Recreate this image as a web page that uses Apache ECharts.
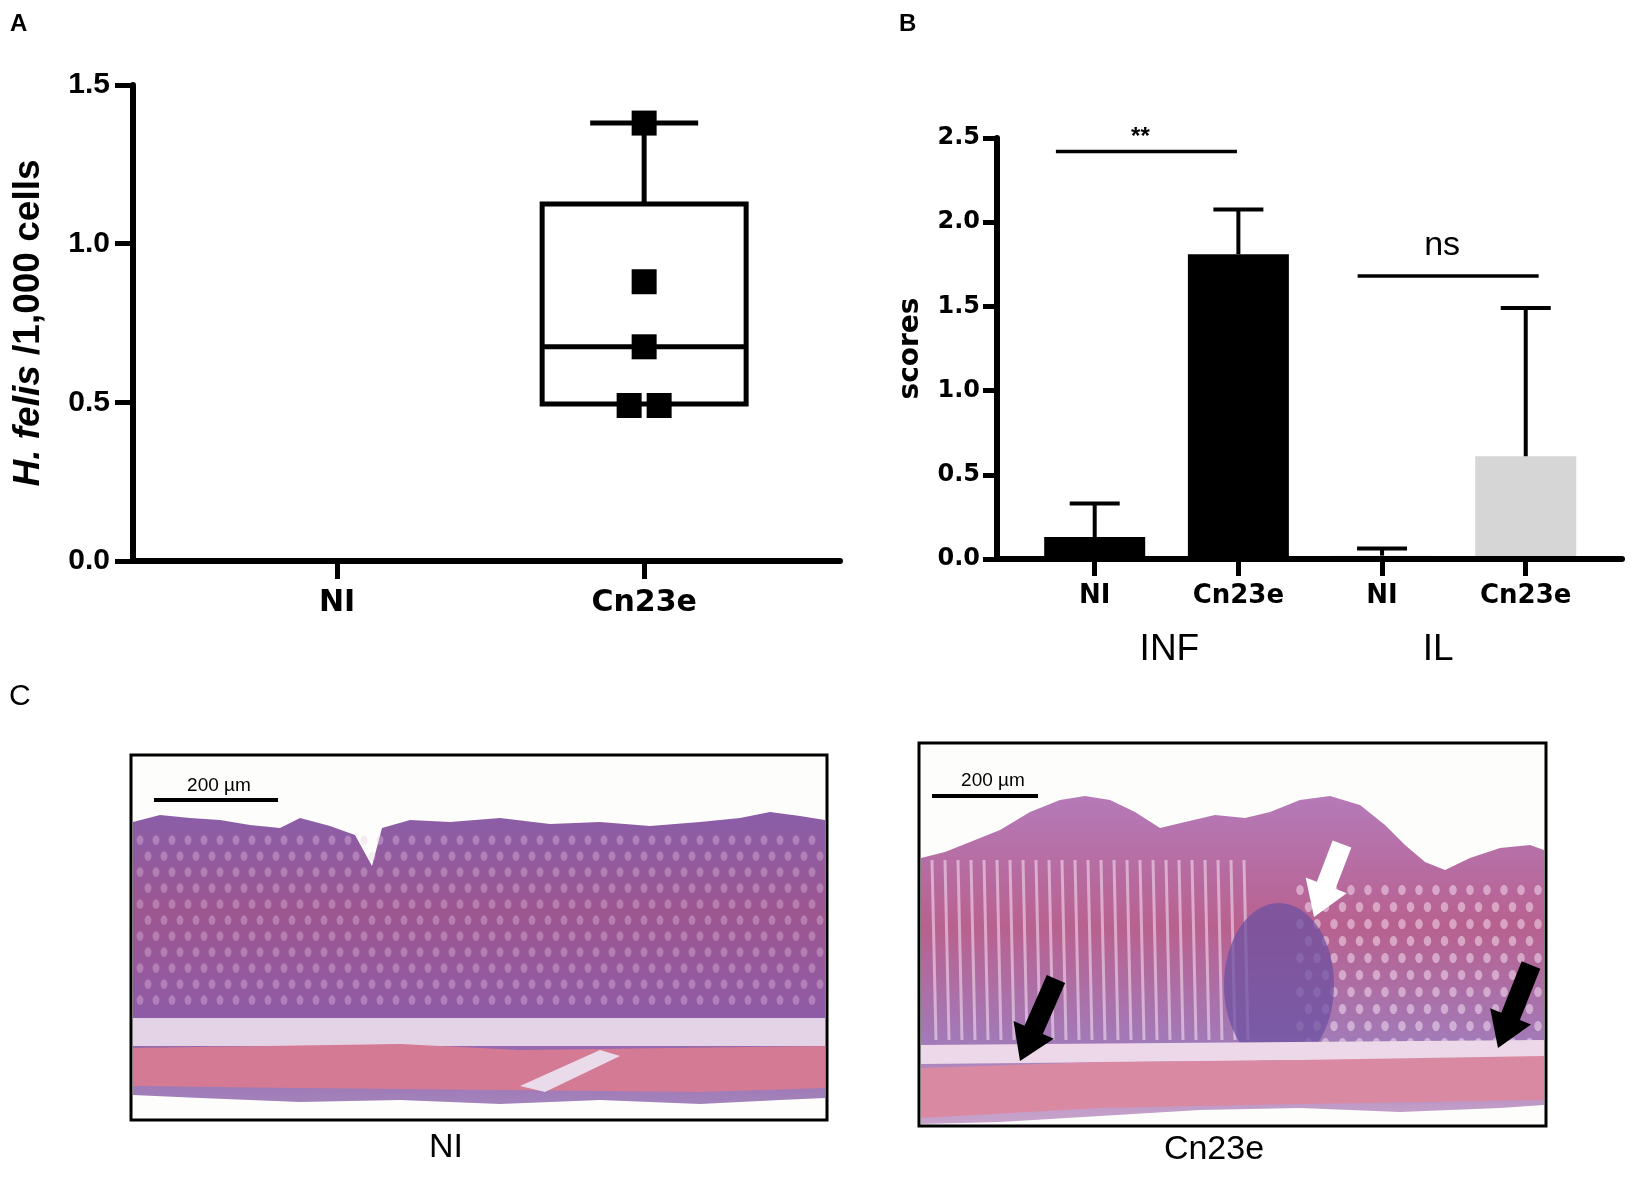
<!DOCTYPE html>
<html>
<head>
<meta charset="utf-8">
<script src="https://cdn.jsdelivr.net/npm/echarts@6/dist/echarts.min.js"></script>
<style>
  html, body { margin: 0; padding: 0; background: #fff; }
  #chart { width: 1641px; height: 1177px; }
</style>
</head>
<body>
<div id="chart"></div>
<script>
// ---- panel A: H. felis / 1,000 cells ----
const boxCats = ['NI', 'Cn23e']
// [category, min, Q1, median, Q3, max]
const boxStats = [[1, 0.49, 0.495, 0.675, 1.125, 1.38]]
const cnPoints = [1.38, 0.88, 0.675, 0.49, 0.49]
const cnJitter = [0, 0, 0, -15, 15]

// ---- panel B: scores ----
const scoreCats = ['NI', 'Cn23e', 'NI', 'Cn23e']
const scoreGroups = ['INF', 'IL']
const scoreGroupAt = [0.52, 2.39]
const scoreMean = [0.13, 1.81, 0.02, 0.61]
const scoreSem = [0.20, 0.265, 0.042, 0.88]
const scoreColors = ['#000000', '#000000', '#dcdcdc', '#d6d6d6']
const sigLines = [[-0.27, 0.99, 2.42], [1.83, 3.09, 1.68]]
const sigText = ['**', 'ns']

const ARIAL = 'Liberation Sans, Arial, sans-serif'
const DEJA = 'DejaVu Sans, sans-serif'

function seg(x1, y1, x2, y2, w) {
  return { type: 'line', shape: { x1, y1, x2, y2 }, style: { stroke: '#000', lineWidth: w } }
}

function renderBox(params, api) {
  const x = api.value(0)
  const v = [1, 2, 3, 4, 5].map(i => api.value(i))
  const p = val => api.coord([x, val])
  const cx = p(v[2])[0]
  const half = 102, cap = 54
  const ylo = p(v[0])[1], yq1 = p(v[1])[1], ym = p(v[2])[1], yq3 = p(v[3])[1], yhi = p(v[4])[1]
  return {
    type: 'group',
    children: [
      { type: 'rect', shape: { x: cx - half, y: yq3, width: half * 2, height: yq1 - yq3 },
        style: { stroke: '#000', lineWidth: 5, fill: 'none' } },
      seg(cx - half, ym, cx + half, ym, 5),
      seg(cx, yq3, cx, yhi, 5),
      seg(cx - cap, yhi, cx + cap, yhi, 5),
      seg(cx, yq1, cx, ylo, 5)
    ]
  }
}

function renderErr(params, api) {
  const x = api.value(0)
  const a = api.coord([x, api.value(1)])
  const b = api.coord([x, api.value(2)])
  return { type: 'group', children: [seg(a[0], a[1], b[0], b[1], 4), seg(b[0] - 25, b[1], b[0] + 25, b[1], 4)] }
}

function renderSig(params, api) {
  const a = api.coord([api.value(0), api.value(2)])
  const b = api.coord([api.value(1), api.value(2)])
  const t = sigText[params.dataIndex]
  const star = t === '**'
  return {
    type: 'group',
    children: [
      seg(a[0], a[1], b[0], b[1], 3.5),
      { type: 'text', x: (a[0] + b[0]) / 2 - 6, y: a[1] - (star ? 14 : 30),
        style: { text: t, fill: '#000', font: star ? 'bold 24px ' + ARIAL : '34px ' + ARIAL,
                 align: 'center', verticalAlign: 'middle', textAlign: 'center', textVerticalAlign: 'middle' } }
    ]
  }
}

function renderGroup(params, api) {
  const p = api.coord([api.value(0), 0])
  return {
    type: 'text', x: p[0], y: p[1] + 91,
    style: { text: scoreGroups[params.dataIndex], fill: '#000', font: '37px ' + ARIAL,
             align: 'center', verticalAlign: 'middle', textAlign: 'center', textVerticalAlign: 'middle' }
  }
}

// ---- panel C: histology sketches (decorative) ----
function txt(x, y, text, font, color) {
  return { type: 'text', x, y, z: 20,
    style: { text, font, fill: color || '#000', align: 'center', verticalAlign: 'middle',
             textAlign: 'center', textVerticalAlign: 'middle' } }
}
function poly(points, fill, z) {
  return { type: 'polygon', z: z || 5, shape: { points }, style: { fill } }
}
function arrow(x0, y0, x1, y1, fill) {
  const dx = x1 - x0, dy = y1 - y0, L = Math.hypot(dx, dy)
  const ux = dx / L, uy = dy / L, nx = -uy, ny = ux
  const hl = 34, sw = 10, hw = 22
  const bx = x1 - ux * hl, by = y1 - uy * hl
  return poly([
    [x0 + nx * sw, y0 + ny * sw], [bx + nx * sw, by + ny * sw], [bx + nx * hw, by + ny * hw],
    [x1, y1], [bx - nx * hw, by - ny * hw], [bx - nx * sw, by - ny * sw], [x0 - nx * sw, y0 - ny * sw]
  ], fill, 15)
}
function texture(x0, x1, y0, y1, step, color) {
  const out = []
  for (let y = y0, r = 0; y < y1; y += step, r++) {
    for (let x = x0 + (r % 2) * step / 2; x < x1; x += step) {
      out.push({ type: 'ellipse', z: 8, shape: { cx: x, cy: y, rx: step * 0.22, ry: step * 0.3 },
        style: { fill: color } })
    }
  }
  return out
}
function vstripes(x0, x1, y0, y1, step, color, w) {
  const out = []
  for (let x = x0; x < x1; x += step) {
    out.push({ type: 'line', z: 7, shape: { x1: x, y1: y0, x2: x + 4, y2: y1 }, style: { stroke: color, lineWidth: w } })
  }
  return out
}
const grad = (stops) => new echarts.graphic.LinearGradient(0, 0, 0, 1, stops)

const leftTop = [[133,822],[160,815],[190,818],[220,820],[250,825],[280,828],[300,818],[330,826],[355,835],[372,866],
  [382,828],[410,820],[450,822],[500,818],[550,824],[600,822],[650,826],[700,822],[740,818],[770,812],[800,816],[825,820]]
const leftBottom = [[825,1098],[780,1100],[700,1104],[600,1100],[500,1104],[400,1100],[300,1102],[200,1098],[133,1095]]
const rightTop = [[921,858],[945,852],[975,840],[1000,830],[1030,812],[1060,800],[1085,796],[1110,800],[1135,812],[1160,828],
  [1185,822],[1215,815],[1245,818],[1270,812],[1300,800],[1330,796],[1360,805],[1385,825],[1405,845],[1425,862],[1445,870],
  [1470,858],[1500,848],[1530,845],[1544,850]]
const rightBottom = [[1544,1105],[1500,1108],[1400,1112],[1300,1108],[1200,1110],[1100,1116],[1000,1122],[921,1124]]

const histo = [
  // left frame
  { type: 'rect', z: 1, shape: { x: 131, y: 755, width: 696, height: 365 }, style: { fill: '#fdfdfb', stroke: '#000', lineWidth: 3 } },
  poly(leftTop.concat(leftBottom), grad([{ offset: 0, color: '#8a5ea8' }, { offset: 0.35, color: '#9c5690' },
    { offset: 0.7, color: '#8f5ba6' }, { offset: 1, color: '#a383bb' }])),
  ...texture(140, 822, 840, 1015, 16, 'rgba(236,200,230,0.35)'),
  poly([[133,1018],[825,1018],[825,1046],[133,1046]], '#e4d2e6', 9),
  poly([[133,1048],[400,1044],[520,1050],[825,1046],[825,1088],[700,1092],[500,1090],[300,1088],[133,1086]], '#d57a94', 10),
  poly([[520,1086],[600,1050],[620,1056],[545,1092]], '#eadbea', 11),
  { type: 'line', z: 20, shape: { x1: 154, y1: 800, x2: 278, y2: 800 }, style: { stroke: '#000', lineWidth: 4 } },
  txt(219, 786, '200 µm', '19px ' + ARIAL),
  txt(446, 1148, 'NI', '34px ' + ARIAL),

  // right frame
  { type: 'rect', z: 1, shape: { x: 919, y: 743, width: 627, height: 383 }, style: { fill: '#fdfdfb', stroke: '#000', lineWidth: 3 } },
  poly(rightTop.concat(rightBottom), grad([{ offset: 0, color: '#b57ab8' }, { offset: 0.4, color: '#b8618f' },
    { offset: 0.75, color: '#a27ab8' }, { offset: 1, color: '#c8a4cc' }])),
  ...vstripes(932, 1250, 860, 1040, 13, 'rgba(250,230,245,0.55)', 3),
  ...texture(1300, 1540, 890, 1045, 17, 'rgba(250,230,245,0.5)'),
  { type: 'ellipse', z: 9, shape: { cx: 1279, cy: 985, rx: 55, ry: 82 }, style: { fill: 'rgba(110,80,160,0.75)' } },
  poly([[921,1045],[1544,1040],[1544,1058],[921,1064]], '#ecd8e8', 10),
  poly([[921,1068],[1100,1062],[1300,1060],[1544,1056],[1544,1100],[1300,1104],[1100,1108],[921,1118]], '#d98aa2', 11),
  arrow(1056, 979, 1020, 1061, '#000'),
  arrow(1531, 965, 1498, 1048, '#000'),
  arrow(1342, 844, 1314, 917, '#ffffff'),
  { type: 'line', z: 20, shape: { x1: 932, y1: 796, x2: 1038, y2: 796 }, style: { stroke: '#000', lineWidth: 4 } },
  txt(993, 781, '200 µm', '19px ' + ARIAL),
  txt(1214, 1150, 'Cn23e', '34px ' + ARIAL),

  // panel letters
  { type: 'text', z: 20, x: 10, y: 24, style: { text: 'A', font: 'bold 24px ' + ARIAL, fill: '#000', verticalAlign: 'middle', textVerticalAlign: 'middle' } },
  { type: 'text', z: 20, x: 899, y: 24, style: { text: 'B', font: 'bold 24px ' + ARIAL, fill: '#000', verticalAlign: 'middle', textVerticalAlign: 'middle' } },
  { type: 'text', z: 20, x: 9, y: 697, style: { text: 'C', font: '30px ' + ARIAL, fill: '#000', verticalAlign: 'middle', textVerticalAlign: 'middle' } }
]

const axisLine = { show: true, onZero: false, lineStyle: { color: '#000', width: 6 } }

const option = {
  animation: false,
  backgroundColor: '#fff',
  grid: [
    { left: 133, top: 85, width: 707, height: 476 },
    { left: 997, top: 138, width: 625, height: 421 }
  ],
  xAxis: [
    { type: 'value', gridIndex: 0, min: -0.665, max: 1.638, axisLine, z: 6,
      splitLine: { show: false },
      axisTick: { show: true, customValues: [0, 1], length: 18, lineStyle: { color: '#000', width: 5 } },
      axisLabel: { customValues: [0, 1], formatter: v => boxCats[Math.round(v)], margin: 27,
        color: '#000', fontFamily: DEJA, fontWeight: 'bold', fontSize: 30 } },
    { type: 'value', gridIndex: 1, min: -0.68, max: 3.67, axisLine, z: 6,
      splitLine: { show: false },
      axisTick: { show: true, customValues: [0, 1, 2, 3], length: 17, lineStyle: { color: '#000', width: 5 } },
      axisLabel: { customValues: [0, 1, 2, 3], formatter: v => scoreCats[Math.round(v)], margin: 24,
        color: '#000', fontFamily: DEJA, fontWeight: 'bold', fontSize: 26 } }
  ],
  yAxis: [
    { type: 'value', gridIndex: 0, min: 0, max: 1.5, interval: 0.5, axisLine, z: 6,
      splitLine: { show: false },
      axisTick: { show: true, length: 18, lineStyle: { color: '#000', width: 5 } },
      axisLabel: { formatter: v => v.toFixed(1), margin: 23, color: '#000', fontFamily: ARIAL, fontWeight: 'bold', fontSize: 30 },
      name: '{i|H. felis} /1,000 cells', nameLocation: 'middle', nameRotate: 90, nameGap: 86,
      nameTextStyle: { color: '#000', fontFamily: ARIAL, fontWeight: 'bold', fontSize: 37,
        rich: { i: { fontStyle: 'italic', fontWeight: 'bold', fontFamily: ARIAL, fontSize: 37, color: '#000' } } } },
    { type: 'value', gridIndex: 1, min: 0, max: 2.5, interval: 0.5, axisLine, z: 6,
      splitLine: { show: false },
      axisTick: { show: true, length: 14, lineStyle: { color: '#000', width: 5 } },
      axisLabel: { formatter: v => v.toFixed(1), margin: 17, color: '#000', fontFamily: DEJA, fontWeight: 'bold', fontSize: 24 },
      name: 'scores', nameLocation: 'middle', nameRotate: 90, nameGap: 72,
      nameTextStyle: { color: '#000', fontFamily: DEJA, fontWeight: 'bold', fontSize: 28 } }
  ],
  series: [
    { type: 'custom', xAxisIndex: 0, yAxisIndex: 0, renderItem: renderBox, data: boxStats,
      encode: { x: 0, y: [1, 2, 3, 4, 5] }, z: 3 },
    { type: 'scatter', xAxisIndex: 0, yAxisIndex: 0, symbol: 'rect', symbolSize: 25, z: 5,
      itemStyle: { color: '#000', opacity: 1 },
      data: cnPoints.map((v, i) => ({ value: [1, v], symbolOffset: [cnJitter[i], 0] })) },
    { type: 'bar', xAxisIndex: 1, yAxisIndex: 1, barWidth: 101, z: 2,
      data: scoreMean.map((v, i) => ({ value: [i, v], itemStyle: { color: scoreColors[i] } })) },
    { type: 'custom', xAxisIndex: 1, yAxisIndex: 1, renderItem: renderErr, z: 4,
      data: scoreMean.map((v, i) => [i, v, v + scoreSem[i]]), encode: { x: 0, y: [1, 2] } },
    { type: 'custom', xAxisIndex: 1, yAxisIndex: 1, renderItem: renderSig, z: 4, clip: false,
      data: sigLines, encode: { x: [0, 1], y: 2 } },
    { type: 'custom', xAxisIndex: 1, yAxisIndex: 1, renderItem: renderGroup, z: 4, clip: false,
      data: scoreGroupAt.map(x => [x, 0]), encode: { x: 0, y: 1 } }
  ],
  graphic: histo
}

const chart = echarts.init(document.getElementById('chart'))
chart.setOption(option)
</script>
</body>
</html>
